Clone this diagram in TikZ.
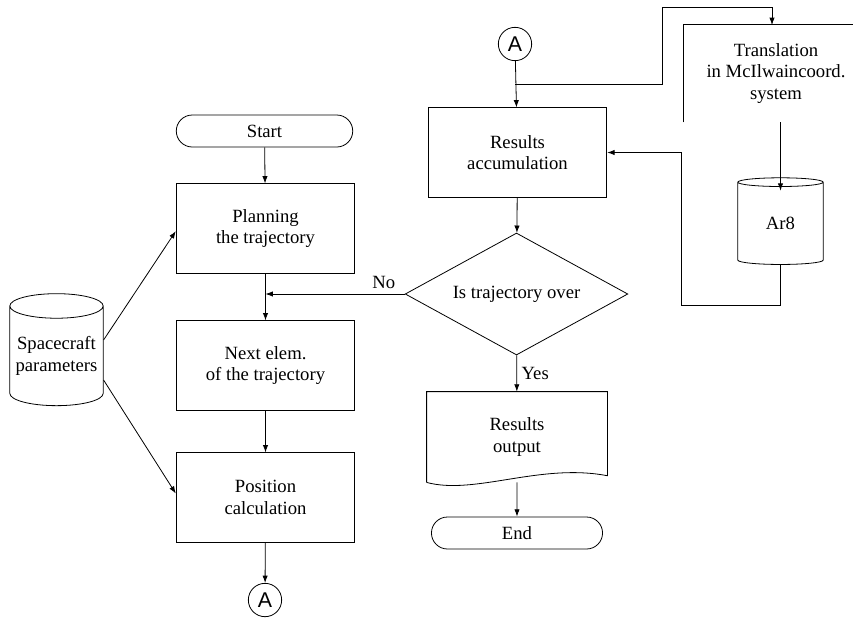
\documentclass[tikz,border=0pt]{standalone}
\usepackage{fontspec}
\setmainfont{Liberation Serif}
\newfontfamily\connfont{Liberation Sans}
\usetikzlibrary{shapes.geometric,shapes.misc,arrows.meta}

\begin{document}
\begin{tikzpicture}[x=0.75pt,y=-0.75pt,line width=0.6pt,
		font=\fontsize{14}{16}\selectfont,
		>={Latex[length=5.5pt,width=4pt]},
		box/.style={rectangle,draw,minimum width=134pt,minimum height=67pt,align=center},
		term/.style={rounded rectangle,draw,minimum width=139pt,minimum height=24pt},
		conn/.style={circle,draw,inner sep=0pt,minimum size=25pt,font=\connfont\fontsize{16}{16}\selectfont},
		db/.style={cylinder,draw,shape border rotate=90,aspect=0.3,align=center,inner sep=0pt}]
		\useasboundingbox (0,0) rectangle (853,619);
		% left column
		\node [term] (start) at (264.5,131) {Start};
		\node [box] (plan) at (265.5,228.5) {Planning\\the trajectory};
		\node [box] (next) at (265.5,365.5) {Next elem.\\of the trajectory};
		\node [box] (pos) at (265.5,497.5) {Position\\calculation};
		\node [conn] (aB) at (265,600) {A};
		\node [db,minimum width=70pt,minimum height=84pt] (sc) at (56.5,356) {Spacecraft\\parameters};
		% right column
		\node [conn] (aT) at (515,44) {A};
		\node [box] (acc) at (517.5,152.5) {Results\\accumulation};
		\node [diamond,draw,aspect=1.83,inner sep=0pt,minimum width=167pt,minimum height=91.5pt] (dec) at (516.5,294) {Is trajectory over};
		\node [rectangle,minimum width=135pt,minimum height=67.5pt,align=center] (out) at (517,437) {Results\\output};
		\node [term,minimum width=135pt] (end) at (517,533) {End};
		\node [rectangle,minimum width=138pt,minimum height=72.75pt,align=center] (tr) at (776,73.5) {Translation\\in McIlwaincoord.\\system};
		\node [db,minimum width=64pt,minimum height=65pt] (ar8) at (780.5,223.5) {Ar8};
		% open and wavy outlines
		\draw (out.south west) -- (out.north west) -- (out.north east) -- ([yshift=5pt]out.south east)
			.. controls +(-67,-13) and +(48,13) .. (out.south west);
		\draw (tr.south west) -- (tr.north west) -- (tr.north -| 853,0);
		\coordinate (j) at (515,84);
		\coordinate (k) at (662,7);
		\coordinate (tin) at (772,25);
		\coordinate (fb) at (681,305);
		\path[->]
			(start) edge (plan)
			(plan) edge (next)
			(next) edge (pos)
			(pos) edge (aB)
			([yshift=12pt]sc.east) edge ([yshift=-2pt]plan.west)
			([yshift=-18pt]sc.east) edge ([yshift=3pt]pos.west)
			(aT) edge (acc)
			(acc) edge (dec)
			(dec) edge node[right]{Yes} (out)
			(dec.west) edge node[pos=0.15,above]{No} (dec.west -| plan.south)
			(out) edge (end)
			(tr.south -| ar8.north) edge ([yshift=-10pt]ar8.north);
		\draw[->] (j) -| (k) -| (tin);
		\draw[->] (ar8.south) |- (fb) |- (acc.east);
\end{tikzpicture}
\end{document}
